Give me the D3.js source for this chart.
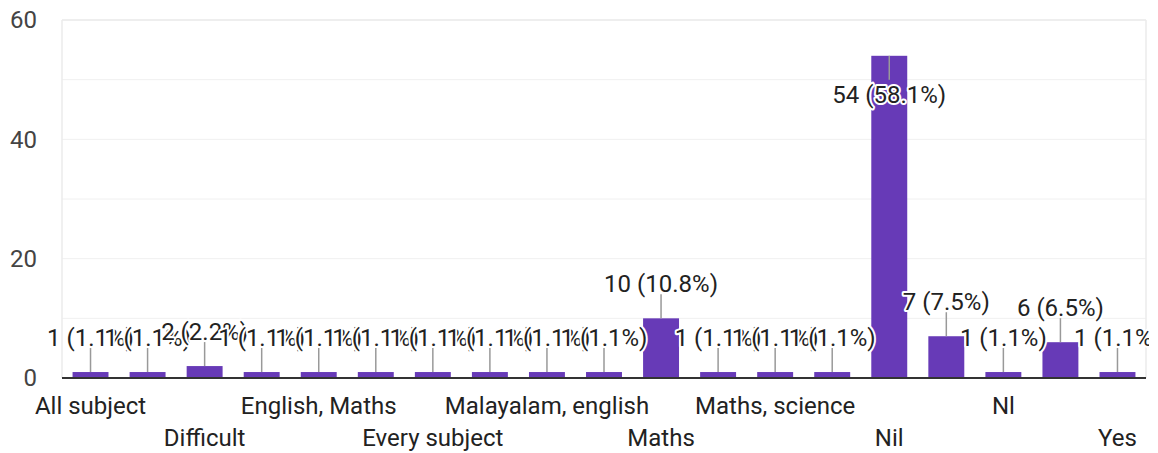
<!DOCTYPE html>
<html>
<head>
<meta charset="utf-8">
<script src="https://cdn.jsdelivr.net/npm/d3@7"></script>
<style>
  html, body { margin: 0; padding: 0; background: #fff; }
  svg { display: block; font-family: Roboto, "Noto Sans", sans-serif; }
</style>
</head>
<body>
<svg id="chart" width="1158" height="453"></svg>
<script>
// ---- data ----
const categories = [
  "All subject", "Biology", "Difficult", "English", "English, Maths",
  "English, science", "Every subject", "Hindi", "Malayalam, english",
  "Malayalam, maths", "Maths", "Maths, english", "Maths, science",
  "Maths, social", "Nil", "Nill", "Nl", "No", "Yes"
];
const counts = [1, 1, 2, 1, 1, 1, 1, 1, 1, 1, 10, 1, 1, 1, 54, 7, 1, 6, 1];
const yTicks = [0, 20, 40, 60];
const yGrid = [10, 20, 30, 40, 50, 60];

const total = d3.sum(counts);
const data = categories.map((c, i) => ({ cat: c, v: counts[i], i }));

const svg = d3.select("#chart");
const M = { left: 62, right: 12, top: 20, bottom: 75 };
const W = 1158, H = 453;

const x = d3.scaleBand()
  .domain(categories)
  .range([M.left, W - M.right])
  .paddingInner(0.37)
  .paddingOuter(0.185);

const y = d3.scaleLinear()
  .domain([0, 60])
  .range([H - M.bottom, M.top]);

svg.append("defs").append("clipPath").attr("id", "annclip")
  .append("rect").attr("x", 0).attr("y", 0)
  .attr("width", W - M.right + 3).attr("height", H);

// gridlines
svg.append("g").selectAll("line").data(yGrid).join("line")
  .attr("x1", M.left).attr("x2", W - M.right)
  .attr("y1", d => y(d)).attr("y2", d => y(d))
  .attr("stroke", d => d === 60 ? "#e8e8e8" : "#f0f0f0")
  .attr("stroke-width", d => d === 60 ? 1.5 : 1);

// side borders
svg.append("g").selectAll("line").data([M.left, W - M.right]).join("line")
  .attr("x1", d => d).attr("x2", d => d)
  .attr("y1", y(60)).attr("y2", y(0))
  .attr("stroke", "#ebebeb").attr("stroke-width", 1.5);

// y axis labels
const yAxis = d3.axisLeft(y).tickValues(yTicks).tickSize(0).tickPadding(25);
const gy = svg.append("g").attr("transform", `translate(${M.left},0)`).call(yAxis);
gy.select(".domain").remove();
gy.selectAll("text")
  .attr("font-size", 24).attr("fill", "#444")
  .attr("font-family", "Roboto, sans-serif");

// bars
svg.append("g").selectAll("rect").data(data).join("rect")
  .attr("x", d => x(d.cat))
  .attr("width", x.bandwidth())
  .attr("y", d => y(d.v))
  .attr("height", d => y(0) - y(d.v))
  .attr("fill", "#673ab7");

// baseline
svg.append("line")
  .attr("x1", M.left).attr("x2", W - M.right)
  .attr("y1", y(0)).attr("y2", y(0))
  .attr("stroke", "#333").attr("stroke-width", 2);

// x axis category labels (alternate rows, every other shown)
const xAxis = d3.axisBottom(x).tickSize(0).tickPadding(0)
  .tickFormat((d, i) => i % 2 === 0 ? d : "");
const gx = svg.append("g").attr("transform", `translate(0,${y(0)})`).call(xAxis);
gx.select(".domain").remove();
gx.selectAll("text")
  .attr("font-size", 24).attr("fill", "#222")
  .attr("font-family", "Roboto, sans-serif")
  .attr("dy", (d, i) => (i % 4 === 0) ? "1.5em" : "2.82em");

// annotations with stems
const stem = 24;
const ann = svg.append("g").attr("clip-path", "url(#annclip)");
data.forEach(d => {
  const cx = x(d.cat) + x.bandwidth() / 2;
  const top = y(d.v);
  const inside = top - stem - 40 < M.top;
  const y2 = inside ? top + stem : top - stem;
  ann.append("line")
    .attr("x1", cx).attr("x2", cx)
    .attr("y1", top).attr("y2", y2)
    .attr("stroke", "#999").attr("stroke-width", 1.5);
  const pct = (d.v / total * 100).toFixed(1);
  ann.append("text")
    .attr("x", cx)
    .attr("y", inside ? y2 + 23 : y2 - 2)
    .attr("text-anchor", "middle")
    .attr("font-size", 24)
    .attr("fill", "#222")
    .attr("stroke", "#fff").attr("stroke-width", 4)
    .attr("stroke-linejoin", "round")
    .attr("paint-order", "stroke")
    .text(`${d.v} (${pct}%)`);
});
</script>
</body>
</html>
